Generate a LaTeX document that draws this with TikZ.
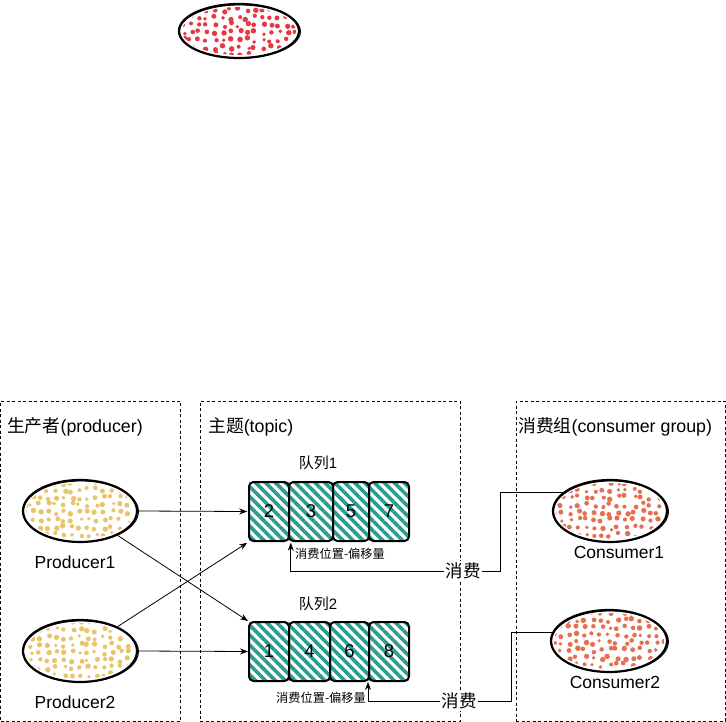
\documentclass[tikz,border=0pt]{standalone}
\usepackage{fontspec}
\setmainfont{Liberation Sans}
\newfontfamily\zhf{Noto Sans CJK SC}
\usetikzlibrary{arrows.meta,patterns.meta,shapes.geometric}
\definecolor{dotred}{HTML}{E63946}
\definecolor{dotyellow}{HTML}{E9C46A}
\definecolor{dotcoral}{HTML}{E76F51}
\definecolor{hatchc}{HTML}{2A9D8F}
\newcommand\dotblob[6]{%
  \begin{scope}
    \clip (#2,#3) ellipse [x radius={(#4-3)*1pt}, y radius={(#5-3)*1pt}];
    \foreach \gx in {-64,-56,...,64}{\foreach \gy in {-36,-28.5,...,36}{%
      \pgfmathsetmacro\xx{#2+\gx+2.2*rand}\pgfmathsetmacro\yy{#3+\gy+2.2*rand}%
      \pgfmathsetmacro\rr{2.3+0.5*rand}%
      \fill[#6] (\xx,\yy) circle (\rr pt);}}
  \end{scope}
  \draw[line width=0.8pt] (#2+1,#3+0.5) ellipse [x radius={(#4+0.5)*1pt}, y radius={(#5-0.5)*1pt}];
  \node[blob, minimum width={2*#4}, minimum height={2*#5}] (#1) at (#2,#3) {};
}
\begin{document}
\begin{tikzpicture}[x=1pt,y=-1pt,
  blob/.style={ellipse, draw, line width=2.2pt, inner sep=0pt},
  frame/.style={draw, line width=0.6pt, dash pattern=on 3pt off 2.5pt, inner sep=0pt},
  title/.style={anchor=west, inner sep=0pt, font=\fontsize{17.8}{20}\selectfont},
  lbl/.style={inner sep=0pt, font=\fontsize{17.5}{20}\selectfont},
  qlbl/.style={inner sep=0pt, font=\fontsize{15}{17}\selectfont},
  small/.style={anchor=west, inner sep=0pt, font=\fontsize{12.2}{15}\selectfont},
  cell/.style={draw, line width=2pt, rounded corners=4.5pt,
    pattern={Lines[angle=-45,distance=7pt,line width=3.6pt]}, pattern color=hatchc,
    minimum height=59pt, inner sep=0pt, font=\fontsize{18.5}{20}\selectfont},
  arr/.style={line width=0.8pt, -{Stealth[length=8pt,width=6pt]}},
  cons/.style={fill=white, inner sep=1.5pt, font=\fontsize{17.5}{20}\selectfont}]
\useasboundingbox (0,0) rectangle (726,722);
\pgfmathsetseed{7}
% frames
\node[frame, minimum width=180pt, minimum height=320pt] (fp) at (90.5,561) {};
\node[frame, minimum width=260pt, minimum height=320pt] (ft) at (330,561) {};
\node[frame, minimum width=209pt, minimum height=320pt] (fc) at (620.5,561) {};
\node[title] (tp) at (7,427) {{\zhf 生产者}(producer)};
\node[title] (tt) at (208,427) {{\zhf 主题}(topic)};
\node[title] (tc) at (518,427) {{\zhf 消费组}(consumer group)};
% blobs
\dotblob{top}{239}{31}{60}{27}{dotred}
\dotblob{p1}{80}{511}{57}{31}{dotyellow}
\dotblob{p2}{80}{651}{57}{31}{dotyellow}
\dotblob{c1}{610}{511}{57}{31}{dotcoral}
\dotblob{c2}{609}{641}{58}{31}{dotcoral}
\node[lbl] (p1l) at (75,562) {Producer1};
\node[lbl] (p2l) at (75,702) {Producer2};
\node[lbl] (c1l) at (619,552) {Consumer1};
\node[lbl] (c2l) at (615,682) {Consumer2};
% queues
\node[qlbl] (q1l) at (318,463) {{\zhf 队列}1};
\node[cell, minimum width=40pt] (q1c1) at (269,511.5) {2};
\node[cell, minimum width=44pt] (q1c2) at (311,511.5) {3};
\node[cell, minimum width=36pt] (q1c3) at (351,511.5) {5};
\node[cell, minimum width=40pt] (q1c4) at (389,511.5) {7};
\node[qlbl] (q2l) at (318,604) {{\zhf 队列}2};
\node[cell, minimum width=40pt] (q2c1) at (269,651.5) {1};
\node[cell, minimum width=41pt] (q2c2) at (309.5,651.5) {4};
\node[cell, minimum width=39pt] (q2c3) at (349.5,651.5) {6};
\node[cell, minimum width=40pt] (q2c4) at (389,651.5) {8};
\node[small] (o1) at (295,554) {\zhf 消费位置-偏移量};
\node[small] (o2) at (276,698) {\zhf 消费位置-偏移量};
% producer arrows
\draw[arr] (p1.east) -- (q1c1.west);
\draw[arr] (p1.-33) -- (q2c1.north west);
\draw[arr] (p2.33) -- (q1c1.south west);
\draw[arr] (p2.east) -- (q2c1.west);
% consumer arrows
\draw[arr] (c1.158) -| (500,571) -| (q1c1.south east);
\node[cons] (k1) at (463,571) {\zhf 消费};
\draw[arr] (c2.171) -| (511,701) -| (q2c4.south west);
\node[cons] (k2) at (459,701) {\zhf 消费};
\end{tikzpicture}
\end{document}
